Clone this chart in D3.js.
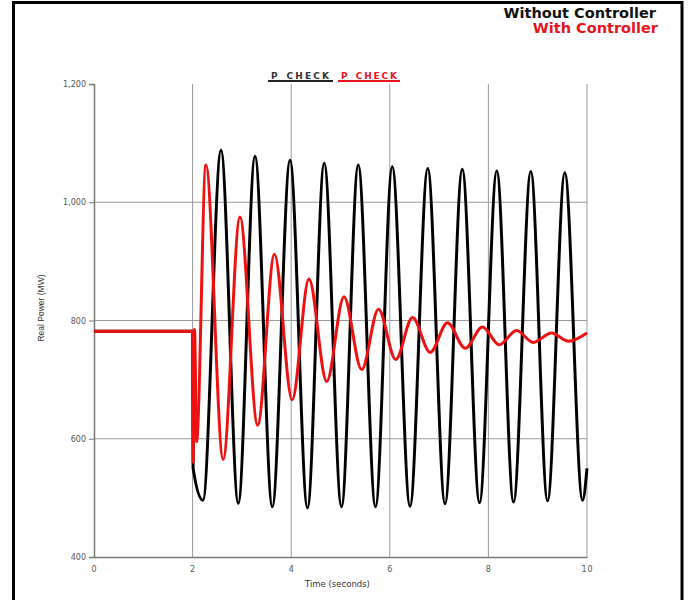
<!DOCTYPE html>
<html>
<head>
<meta charset="utf-8">
<script src="https://cdn.jsdelivr.net/npm/d3@7"></script>
<style>
  html, body { margin: 0; padding: 0; background: #fff; }
  svg { display: block; }
</style>
</head>
<body>
<svg id="chart" width="689" height="600"></svg>
<script>
// ---- Data ----
const timeNoCtrl = [0, 2.0, 2.01, 2.21, 2.576, 2.927, 3.266, 3.617, 3.976, 4.33, 4.67, 5.02, 5.36, 5.71, 6.05, 6.41, 6.77, 7.12, 7.47, 7.82, 8.17, 8.51, 8.86, 9.20, 9.55, 9.91, 10.0];
const powerNoCtrl = [782, 782, 550, 496, 1088, 491, 1078, 485, 1071, 483, 1066, 485, 1063, 485, 1060, 486, 1057, 490, 1056, 492, 1053, 493, 1052, 495, 1050, 496, 550];

const timeCtrl = [0, 2.0, 2.01, 2.04, 2.08, 2.27, 2.62, 2.96, 3.32, 3.66, 4.02, 4.36, 4.72, 5.07, 5.43, 5.77, 6.12, 6.46, 6.82, 7.17, 7.53, 7.88, 8.22, 8.57, 8.91, 9.28, 9.62, 10.0];
const powerCtrl = [782, 782, 560, 785, 595, 1063, 565, 975, 623, 912, 666, 870, 697, 840, 717, 819, 734, 805, 746, 796, 753, 789, 759, 783, 763, 779, 765, 779];

const xTicks = [0, 2, 4, 6, 8, 10];
const yTicks = [400, 600, 800, 1000, 1200];
const seriesNames = ["P_CHECK", "P_CHECK"];
const titleLines = ["Without Controller", "With Controller"];
const xTitle = "Time (seconds)";
const yTitle = "Real Power (MW)";

(function () {
// ---- Layout ----
const svg = d3.select("#chart");
const pL = 94, pR = 587, pT = 84, pB = 557;

const x = d3.scaleLinear().domain([0, 10]).range([pL, pR]);
const y = d3.scaleLinear().domain([400, 1200]).range([pB, pT]);

// Frame
svg.append("path")
  .attr("d", `M13.5,601 L13.5,2.5 L682,2.5 L682,601`)
  .attr("fill", "none").attr("stroke", "#000").attr("stroke-width", 3);

// Titles
const tg = svg.append("g").attr("font-family", "DejaVu Sans, Verdana, sans-serif")
  .attr("font-weight", "bold").attr("font-size", 14.5).attr("text-anchor", "end");
tg.append("text").attr("x", 656).attr("y", 18).attr("fill", "#111").text(titleLines[0]);
tg.append("text").attr("x", 658).attr("y", 33).attr("fill", "#e8141b").text(titleLines[1]);

// Grid
const grid = svg.append("g");
grid.selectAll("line.v").data(xTicks.filter(d => d > 0)).join("line")
  .attr("x1", d => x(d)).attr("x2", d => x(d))
  .attr("y1", pT).attr("y2", pB)
  .attr("stroke", "#9a9a9a").attr("stroke-width", 1);
grid.selectAll("line.h").data(yTicks.filter(d => d > 400 && d < 1200)).join("line")
  .attr("x1", pL).attr("x2", pR)
  .attr("y1", d => y(d)).attr("y2", d => y(d))
  .attr("stroke", "#9a9a9a").attr("stroke-width", 1);

// Axes
const yAxis = d3.axisLeft(y).tickValues(yTicks).tickSize(5).tickPadding(3)
  .tickFormat(d3.format(","));
const gy = svg.append("g").attr("transform", `translate(${pL},0)`).call(yAxis);
gy.select(".domain").attr("stroke", "#777").attr("stroke-width", 1.5);
gy.selectAll(".tick line").attr("stroke", "#777");
gy.selectAll("text").attr("font-family", "DejaVu Sans, Verdana, sans-serif")
  .attr("font-size", 8).attr("fill", "#555");

const xAxis = d3.axisBottom(x).tickValues(xTicks).tickSize(0).tickPadding(9);
const gx = svg.append("g").attr("transform", `translate(0,${pB})`).call(xAxis);
gx.select(".domain").attr("stroke", "#777").attr("stroke-width", 1.5);
gx.selectAll("text").attr("font-family", "DejaVu Sans, Verdana, sans-serif")
  .attr("font-size", 8).attr("fill", "#555").attr("letter-spacing", 1);

// Axis titles
svg.append("text").attr("x", (pL + pR) / 2 - 3).attr("y", 587)
  .attr("text-anchor", "middle").attr("font-family", "DejaVu Sans, Verdana, sans-serif")
  .attr("font-size", 8.5).attr("fill", "#333").text(xTitle);
svg.append("text").attr("transform", "translate(44,308) rotate(-90)")
  .attr("text-anchor", "middle").attr("font-family", "Liberation Sans Narrow, Liberation Sans, Arial, sans-serif")
  .attr("font-size", 8.5).attr("fill", "#333").text(yTitle);

// Legend
const lg = svg.append("g").attr("font-family", "DejaVu Sans, Verdana, sans-serif")
  .attr("font-size", 9).attr("font-weight", "bold");
lg.append("text").attr("x", 271).attr("y", 79).attr("fill", "#333")
  .attr("textLength", 58).attr("lengthAdjust", "spacing").text(seriesNames[0]);
lg.append("line").attr("x1", 268).attr("x2", 333).attr("y1", 81).attr("y2", 81)
  .attr("stroke", "#222").attr("stroke-width", 2);
lg.append("text").attr("x", 341).attr("y", 79).attr("fill", "#e8141b")
  .attr("textLength", 56).attr("lengthAdjust", "spacing").text(seriesNames[1]);
lg.append("line").attr("x1", 338).attr("x2", 400).attr("y1", 81).attr("y2", 81)
  .attr("stroke", "#e8141b").attr("stroke-width", 2);

// Lines
const line = d3.line().x(d => x(d[0])).y(d => y(d[1])).curve(d3.curveMonotoneX);
const dataNo = timeNoCtrl.map((t, i) => [t, powerNoCtrl[i]]);
const dataCtrl = timeCtrl.map((t, i) => [t, powerCtrl[i]]);

svg.append("path").datum(dataNo).attr("d", line)
  .attr("fill", "none").attr("stroke", "#000").attr("stroke-width", 3).attr("stroke-linejoin", "round");
svg.append("path").datum(dataCtrl).attr("d", line)
  .attr("fill", "none").attr("stroke", "#ee1111").attr("stroke-width", 3).attr("stroke-linejoin", "round");
})();
</script>
</body>
</html>
